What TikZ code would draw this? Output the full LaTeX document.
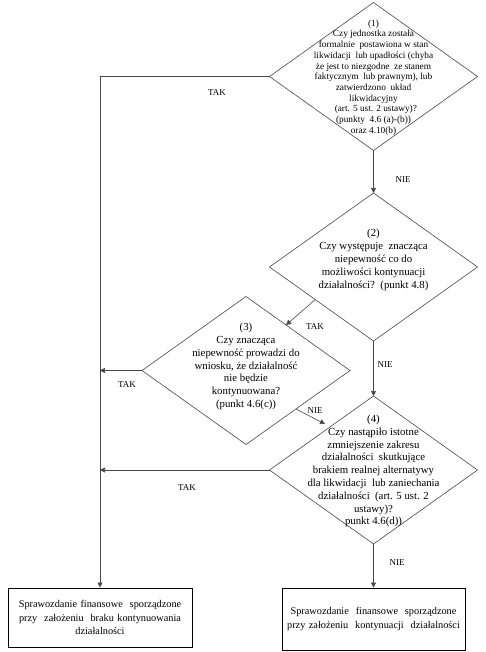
\documentclass[tikz,border=0pt]{standalone}
\usepackage{fontspec}
\setmainfont{Liberation Serif}
\usetikzlibrary{shapes.geometric,arrows.meta,calc}
\begin{document}
\begin{tikzpicture}[x=1pt,y=-1pt,
  line/.style={draw=black!72,line width=0.6pt},
  arr/.style={line,-{Triangle[length=5pt,width=5pt]}},
  dia/.style={shape=diamond,draw=black!72,line width=0.6pt,minimum width=208pt,minimum height=148pt,inner sep=0pt,outer sep=0pt},
  smalltxt/.style={align=center,font=\fontsize{9.3}{10.7}\selectfont,inner sep=0pt},
  txt/.style={align=center,font=\fontsize{10.8}{12.8}\selectfont,inner sep=0pt},
  boxtxt/.style={draw=black,line width=0.9pt,align=center,font=\fontsize{10.3}{13.3}\selectfont,inner sep=0pt,text width=180pt},
  lab/.style={font=\fontsize{9}{10}\selectfont,inner sep=0pt}]
\useasboundingbox (0,0) rectangle (485,652);

% diamonds
\node[dia] (d1) at (373.5,76.5) {};
\node[smalltxt] (t1) at (373.5,77.5) {(1)\\Czy jednostka została\\formalnie\ \ postawiona w stan\\likwidacji\ \ lub upadłości (chyba\\że jest to niezgodne\ \ ze stanem\\faktycznym\ \ lub prawnym), lub\\zatwierdzono\ \ układ\\likwidacyjny\\\ \ (art. 5 ust. 2 ustawy)?\\(punkty\ \ 4.6 (a)-(b))\\oraz 4.10(b)};

\node[dia] (d2) at (373.5,267) {};
\node[txt] (t2) at (373.5,260) {(2)\\Czy występuje\ \ znacząca\\niepewność co do\\możliwości kontynuacji\\działalności?\ \ (punkt 4.8)};

\node[dia] (d3) at (246,370.5) {};
\node[txt] (t3) at (246,366.5) {(3)\\Czy znacząca\\niepewność prowadzi do\\wniosku, że działalność\\nie będzie\\kontynuowana?\\(punkt 4.6(c))};

\node[dia] (d4) at (373.5,470) {};
\node[txt] (t4) at (373.5,471) {(4)\\Czy nastąpiło istotne\\zmniejszenie zakresu\\działalności\ \ skutkujące\\brakiem realnej alternatywy\\dla likwidacji\ \ lub zaniechania\\działalności\ \ (art. 5 ust. 2\\ustawy)?\\punkt 4.6(d))};

% boxes
\node[boxtxt,minimum width=184pt,minimum height=59pt] (b1) at (100,617.5) {Sprawozdanie finansowe\ \ sporządzone\\przy\ \ założeniu\ \ braku kontynuowania\\działalności};
\node[boxtxt,minimum width=183pt,minimum height=62pt] (b2) at (373.5,619) {Sprawozdanie\ \ finansowe\ \ sporządzone\\przy założeniu\ \ kontynuacji\ \ działalności};

% corner coordinates
\coordinate (c1) at (100,76.5);
\coordinate (c3) at (100,370.5);
\coordinate (c4) at (100,470);
\coordinate (n3end) at (325,424);

% connectors
\draw[arr] (d1.south) -- (d2.north);
\node[lab] at (403,180) {NIE};

\draw[line] (d1.west) -- (c1);
\draw[arr] (c1) -- (b1.north);
\node[lab] at (217,93) {TAK};

\draw[arr] ($(d2.west)!0.44!(d2.south)$) -- ($(d3.north)!0.385!(d3.east)$);
\node[lab] at (315,327) {TAK};

\draw[arr] (d2.south) -- (d4.north);
\node[lab] at (385,365) {NIE};

\draw[arr] (d3.west) -- (c3);
\node[lab] at (127,385) {TAK};

\draw[arr] ($(d3.east)!0.52!(d3.south)$) -- (n3end);
\node[lab] at (315,411) {NIE};

\draw[arr] (d4.west) -- (c4);
\node[lab] at (187,488) {TAK};

\draw[arr] (d4.south) -- (b2.north);
\node[lab] at (397,563) {NIE};
\end{tikzpicture}
\end{document}
